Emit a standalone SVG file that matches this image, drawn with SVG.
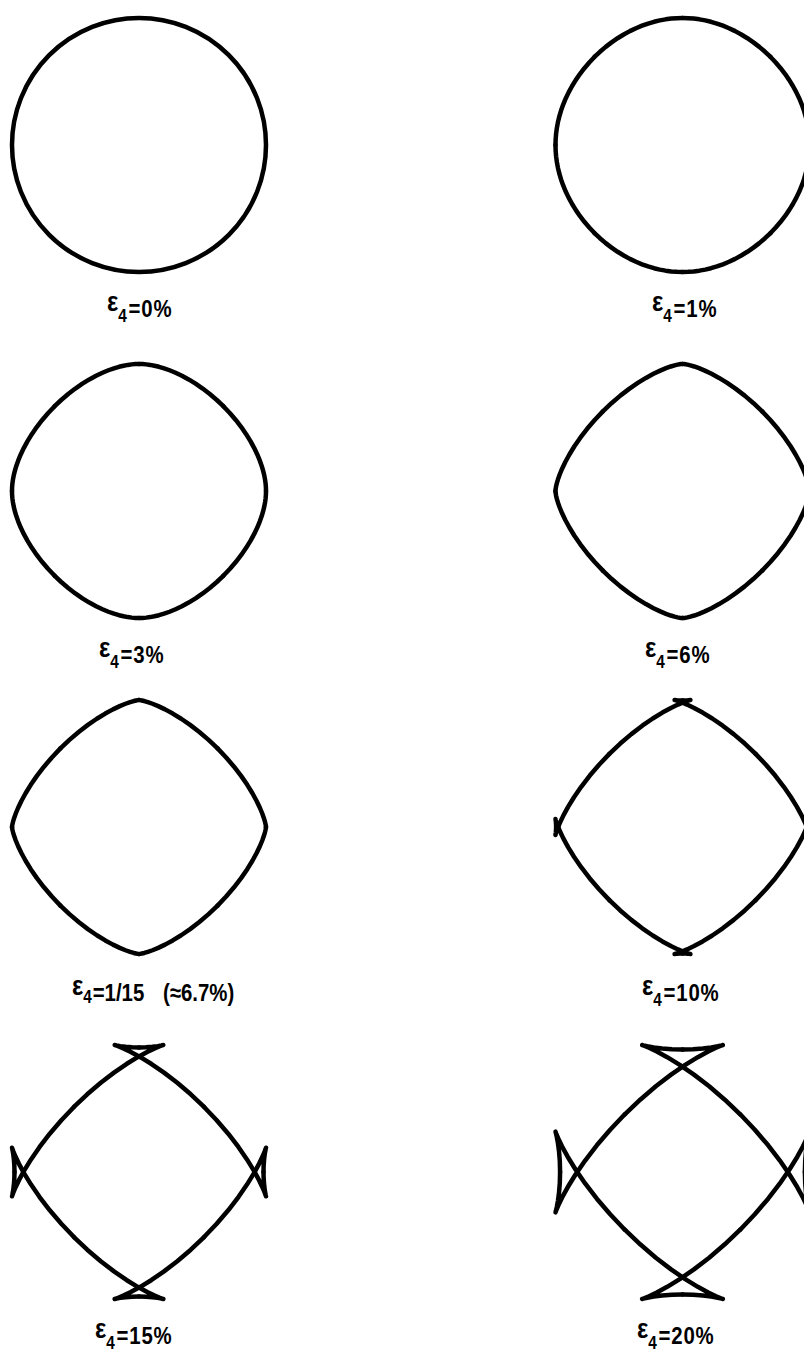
<svg xmlns="http://www.w3.org/2000/svg" width="804" height="1351" viewBox="0 0 804 1351">
<style>
.c{fill:none;stroke:#000;stroke-width:4.5;stroke-linejoin:round;stroke-linecap:round}
.lbl{font-family:"Liberation Sans",Arial,sans-serif;font-weight:bold;font-size:24px;fill:#000;letter-spacing:1px}
.eps{font-size:28px;letter-spacing:0}
.sub{font-size:18px;letter-spacing:0}
</style>
<defs>
<path id="o1" class="c" d="M127,0 L126.85,5.6 126.41,11.23 125.66,16.91 124.6,22.66 123.19,28.5 121.44,34.43 119.31,40.44 116.79,46.52 113.86,52.65 110.53,58.79 106.79,64.89 102.64,70.92 98.12,76.82 93.23,82.54 88.03,88.03"/>
<path id="o3" class="c" d="M127,0 L126.91,3.57 126.62,7.26 126.1,11.17 125.31,15.4 124.2,20.01 122.7,25.07 120.75,30.59 118.27,36.55 115.23,42.92 111.59,49.63 107.32,56.59 102.44,63.68 96.98,70.79 91,77.8 84.57,84.57"/>
<path id="o6" class="c" d="M127,0 L126.98,0.67 126.91,1.58 126.72,2.96 126.34,5.01 125.65,7.89 124.51,11.7 122.8,16.51 120.4,22.3 117.19,29.02 113.1,36.54 108.09,44.71 102.16,53.33 95.37,62.18 87.81,71.02 79.64,79.64"/>
<path id="o67" class="c" d="M127,0 L127,0.05 126.97,0.36 126.86,1.2 126.56,2.78 125.96,5.28 124.9,8.83 123.25,13.49 120.86,19.24 117.61,26.04 113.42,33.73 108.25,42.17 102.1,51.11 95.02,60.33 87.13,69.57 78.58,78.58"/>
<path id="o10" class="c" d="M126.38,0 L126.46,-2.94 126.65,-5.48 126.88,-7.25 127,-7.92 126.83,-7.22 126.15,-4.97 124.76,-1.07 122.45,4.49 119.05,11.6 114.42,20.11 108.51,29.75 101.31,40.22 92.89,51.17 83.42,62.26 73.12,73.12"/>
<path id="o15" class="c" d="M124.5,0 L124.68,-6.99 125.18,-13.41 125.88,-18.72 126.56,-22.45 126.97,-24.22 127,-24.32 126.82,-23.75 125.8,-20.9 123.62,-15.67 120.04,-8.17 114.85,1.35 107.97,12.56 99.4,25.02 89.23,38.26 77.68,51.78 65.07,65.07"/>
<path id="o20" class="c" d="M122.41,0 L122.68,-10.56 123.45,-20.4 124.56,-28.84 125.74,-35.27 126.68,-39.22 127,-40.37 126.99,-40.34 126.31,-38.45 124.25,-33.52 120.51,-25.7 114.84,-15.3 107.13,-2.74 97.37,11.45 85.68,26.67 72.33,42.29 57.7,57.7"/>
<g id="q1"><use href="#o1"/><use href="#o1" transform="matrix(0,1,1,0,0,0)"/></g>
<g id="q3"><use href="#o3"/><use href="#o3" transform="matrix(0,1,1,0,0,0)"/></g>
<g id="q6"><use href="#o6"/><use href="#o6" transform="matrix(0,1,1,0,0,0)"/></g>
<g id="q67"><use href="#o67"/><use href="#o67" transform="matrix(0,1,1,0,0,0)"/></g>
<g id="q10"><use href="#o10"/><use href="#o10" transform="matrix(0,1,1,0,0,0)"/></g>
<g id="q15"><use href="#o15"/><use href="#o15" transform="matrix(0,1,1,0,0,0)"/></g>
<g id="q20"><use href="#o20"/><use href="#o20" transform="matrix(0,1,1,0,0,0)"/></g>
</defs>
<rect width="804" height="1351" fill="#fff"/>

<g id="shape-eps0">
<circle class="c" cx="139" cy="145" r="127"/>
<text class="lbl" transform="translate(107,317) scale(0.85,1)"><tspan class="eps" dy="-6">ε</tspan><tspan class="sub" dy="11">4</tspan><tspan dx="2" dy="-5">=0%</tspan></text>
</g>

<g id="shape-eps1">
<g transform="translate(682.5,145)"><use href="#q1"/><use href="#q1" transform="rotate(90)"/><use href="#q1" transform="rotate(180)"/><use href="#q1" transform="rotate(270)"/></g>
<text class="lbl" transform="translate(652,317) scale(0.85,1)"><tspan class="eps" dy="-6">ε</tspan><tspan class="sub" dy="11">4</tspan><tspan dx="2" dy="-5">=1%</tspan></text>
</g>

<g id="shape-eps3">
<g transform="translate(139,491)"><use href="#q3"/><use href="#q3" transform="rotate(90)"/><use href="#q3" transform="rotate(180)"/><use href="#q3" transform="rotate(270)"/></g>
<text class="lbl" transform="translate(99,663) scale(0.85,1)"><tspan class="eps" dy="-6">ε</tspan><tspan class="sub" dy="11">4</tspan><tspan dx="2" dy="-5">=3%</tspan></text>
</g>

<g id="shape-eps6">
<g transform="translate(682.5,491)"><use href="#q6"/><use href="#q6" transform="rotate(90)"/><use href="#q6" transform="rotate(180)"/><use href="#q6" transform="rotate(270)"/></g>
<text class="lbl" transform="translate(645,663) scale(0.85,1)"><tspan class="eps" dy="-6">ε</tspan><tspan class="sub" dy="11">4</tspan><tspan dx="2" dy="-5">=6%</tspan></text>
</g>

<g id="shape-eps1-15">
<g transform="translate(139,827)"><use href="#q67"/><use href="#q67" transform="rotate(90)"/><use href="#q67" transform="rotate(180)"/><use href="#q67" transform="rotate(270)"/></g>
<text class="lbl" transform="translate(72,1001) scale(0.85,1)" style="letter-spacing:0"><tspan class="eps" dy="-6">ε</tspan><tspan class="sub" dy="8">4</tspan><tspan dx="1" dy="-2">=1/15</tspan><tspan x="107">(≈6.7%)</tspan></text>
</g>

<g id="shape-eps10">
<g transform="translate(682.5,827)"><use href="#q10"/><use href="#q10" transform="rotate(90)"/><use href="#q10" transform="rotate(180)"/><use href="#q10" transform="rotate(270)"/></g>
<text class="lbl" transform="translate(642,1001) scale(0.85,1)"><tspan class="eps" dy="-6">ε</tspan><tspan class="sub" dy="11">4</tspan><tspan dx="2" dy="-5">=10%</tspan></text>
</g>

<g id="shape-eps15">
<g transform="translate(139,1172)"><use href="#q15"/><use href="#q15" transform="rotate(90)"/><use href="#q15" transform="rotate(180)"/><use href="#q15" transform="rotate(270)"/></g>
<text class="lbl" transform="translate(95,1344) scale(0.85,1)"><tspan class="eps" dy="-6">ε</tspan><tspan class="sub" dy="11">4</tspan><tspan dx="2" dy="-5">=15%</tspan></text>
</g>

<g id="shape-eps20">
<g transform="translate(682.5,1172)"><use href="#q20"/><use href="#q20" transform="rotate(90)"/><use href="#q20" transform="rotate(180)"/><use href="#q20" transform="rotate(270)"/></g>
<text class="lbl" transform="translate(637,1344) scale(0.85,1)"><tspan class="eps" dy="-6">ε</tspan><tspan class="sub" dy="11">4</tspan><tspan dx="2" dy="-5">=20%</tspan></text>
</g>
</svg>
